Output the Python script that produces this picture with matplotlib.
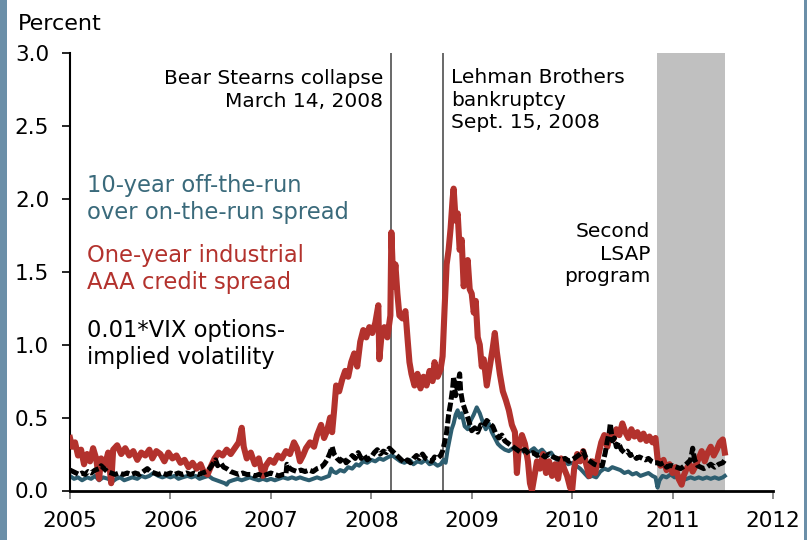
import numpy as np
import matplotlib
matplotlib.use("Agg")
import matplotlib.pyplot as plt
from matplotlib.patches import Rectangle

# Dados (ano fracionário, percentual)
red_x = [2005.00, 2005.02, 2005.05, 2005.08, 2005.11, 2005.14, 2005.17, 2005.20, 2005.23, 2005.26,
         2005.29, 2005.31, 2005.35, 2005.38, 2005.41, 2005.43, 2005.47, 2005.51, 2005.55, 2005.59,
         2005.63, 2005.67, 2005.71, 2005.75, 2005.79, 2005.82, 2005.86, 2005.90, 2005.94, 2005.98,
         2006.02, 2006.06, 2006.10, 2006.14, 2006.18, 2006.22, 2006.26, 2006.30, 2006.33, 2006.37,
         2006.40, 2006.44, 2006.48, 2006.52, 2006.56, 2006.60, 2006.64, 2006.68, 2006.71, 2006.73,
         2006.76, 2006.80, 2006.84, 2006.88, 2006.92, 2006.95, 2006.99, 2007.03, 2007.07, 2007.11,
         2007.15, 2007.19, 2007.23, 2007.26, 2007.29, 2007.32, 2007.35, 2007.39, 2007.43, 2007.46,
         2007.50, 2007.53, 2007.56, 2007.59, 2007.61, 2007.63, 2007.65, 2007.68, 2007.71, 2007.74,
         2007.77, 2007.80, 2007.83, 2007.86, 2007.89, 2007.92, 2007.95, 2007.98, 2008.01, 2008.04,
         2008.07, 2008.08, 2008.10, 2008.13, 2008.16, 2008.19, 2008.20, 2008.22, 2008.24, 2008.26,
         2008.28, 2008.31, 2008.34, 2008.36, 2008.38, 2008.40, 2008.43, 2008.46, 2008.49, 2008.52,
         2008.55, 2008.58, 2008.61, 2008.63, 2008.66, 2008.69, 2008.71, 2008.73, 2008.75, 2008.77,
         2008.79, 2008.81, 2008.82, 2008.84, 2008.86, 2008.88, 2008.90, 2008.92, 2008.94, 2008.96,
         2008.98, 2009.00, 2009.02, 2009.04, 2009.06, 2009.08, 2009.10, 2009.12, 2009.15, 2009.18,
         2009.21, 2009.23, 2009.25, 2009.28, 2009.31, 2009.34, 2009.37, 2009.40, 2009.43, 2009.45,
         2009.47, 2009.50, 2009.53, 2009.56, 2009.58, 2009.60, 2009.62, 2009.65, 2009.68, 2009.71,
         2009.74, 2009.77, 2009.80, 2009.83, 2009.86, 2009.89, 2009.92, 2009.95, 2009.98, 2010.00,
         2010.02, 2010.05, 2010.08, 2010.11, 2010.14, 2010.17, 2010.20, 2010.23, 2010.26, 2010.29,
         2010.32, 2010.35, 2010.38, 2010.41, 2010.44, 2010.47, 2010.50, 2010.53, 2010.56, 2010.59,
         2010.62, 2010.65, 2010.68, 2010.71, 2010.74, 2010.77, 2010.80, 2010.83, 2010.85, 2010.88,
         2010.91, 2010.94, 2010.97, 2011.00, 2011.03, 2011.06, 2011.09, 2011.11, 2011.14, 2011.17,
         2011.20, 2011.23, 2011.26, 2011.29, 2011.32, 2011.35, 2011.38, 2011.41, 2011.44, 2011.47,
         2011.50, 2011.52]
red_y = [0.36, 0.30, 0.33, 0.24, 0.28, 0.18, 0.25, 0.20, 0.29, 0.22,
         0.08, 0.22, 0.18, 0.26, 0.05, 0.28, 0.31, 0.25, 0.29, 0.24,
         0.27, 0.21, 0.26, 0.24, 0.28, 0.22, 0.27, 0.25, 0.20, 0.26,
         0.22, 0.24, 0.19, 0.21, 0.16, 0.19, 0.15, 0.18, 0.13, 0.11,
         0.16, 0.22, 0.26, 0.24, 0.28, 0.25, 0.29, 0.33, 0.43, 0.30,
         0.22, 0.26, 0.18, 0.22, 0.10, 0.17, 0.21, 0.19, 0.24, 0.22,
         0.27, 0.25, 0.33, 0.29, 0.20, 0.24, 0.29, 0.33, 0.30, 0.38,
         0.45, 0.36, 0.41, 0.50, 0.40, 0.55, 0.72, 0.68, 0.76, 0.82,
         0.78, 0.88, 0.94, 0.85, 1.02, 1.10, 1.05, 1.12, 1.08, 1.15,
         1.27, 0.90, 1.05, 1.12, 1.05, 1.20, 1.77, 1.40, 1.55, 1.35,
         1.20, 1.18, 1.23, 1.05, 0.88, 0.80, 0.72, 0.80, 0.70, 0.78,
         0.72, 0.82, 0.75, 0.88, 0.78, 0.83, 0.92, 1.25, 1.55, 1.65,
         1.80, 2.00, 2.07, 1.85, 1.90, 1.65, 1.72, 1.40, 1.50, 1.58,
         1.38, 1.35, 1.22, 1.30, 1.05, 1.00, 0.85, 0.90, 0.72, 0.85,
         0.98, 1.08, 0.95, 0.80, 0.68, 0.62, 0.55, 0.45, 0.40, 0.12,
         0.30, 0.38, 0.32, 0.20, 0.05, 0.00, 0.08, 0.20, 0.15, 0.25,
         0.12, 0.20, 0.10, 0.18, 0.08, 0.22, 0.15, 0.10, 0.02, 0.00,
         0.15, 0.25, 0.20, 0.27, 0.18, 0.10, 0.20, 0.12, 0.24, 0.33,
         0.38, 0.30, 0.40, 0.35, 0.42, 0.38, 0.46, 0.40, 0.36, 0.42,
         0.37, 0.40, 0.35, 0.39, 0.34, 0.37, 0.33, 0.36, 0.22, 0.17,
         0.21, 0.14, 0.18, 0.12, 0.16, 0.08, 0.04, 0.10, 0.15, 0.18,
         0.13, 0.17, 0.22, 0.27, 0.20, 0.26, 0.30, 0.24, 0.28, 0.33,
         0.35, 0.26]

teal_x = [2005.00, 2005.04, 2005.08, 2005.12, 2005.17, 2005.21, 2005.25, 2005.29, 2005.33, 2005.38,
          2005.42, 2005.46, 2005.50, 2005.54, 2005.58, 2005.62, 2005.67, 2005.71, 2005.75, 2005.79,
          2005.83, 2005.88, 2005.92, 2005.96, 2006.00, 2006.04, 2006.08, 2006.12, 2006.17, 2006.21,
          2006.25, 2006.29, 2006.33, 2006.38, 2006.42, 2006.46, 2006.50, 2006.54, 2006.56, 2006.58,
          2006.62, 2006.67, 2006.71, 2006.75, 2006.79, 2006.83, 2006.88, 2006.92, 2006.96, 2007.00,
          2007.04, 2007.08, 2007.12, 2007.17, 2007.21, 2007.25, 2007.29, 2007.33, 2007.38, 2007.42,
          2007.46, 2007.50, 2007.54, 2007.58, 2007.60, 2007.62, 2007.65, 2007.69, 2007.73, 2007.77,
          2007.81, 2007.85, 2007.88, 2007.92, 2007.96, 2008.00, 2008.04, 2008.08, 2008.12, 2008.17,
          2008.21, 2008.25, 2008.29, 2008.33, 2008.38, 2008.42, 2008.46, 2008.50, 2008.54, 2008.58,
          2008.62, 2008.66, 2008.69, 2008.72, 2008.74, 2008.76, 2008.78, 2008.80, 2008.82, 2008.84,
          2008.86, 2008.88, 2008.90, 2008.93, 2008.96, 2008.99, 2009.02, 2009.05, 2009.08, 2009.11,
          2009.14, 2009.17, 2009.20, 2009.23, 2009.26, 2009.29, 2009.33, 2009.37, 2009.41, 2009.45,
          2009.50, 2009.54, 2009.58, 2009.62, 2009.66, 2009.70, 2009.75, 2009.79, 2009.83, 2009.87,
          2009.92, 2009.96, 2010.00, 2010.04, 2010.08, 2010.12, 2010.16, 2010.20, 2010.24, 2010.28,
          2010.32, 2010.36, 2010.40, 2010.44, 2010.48, 2010.52, 2010.56, 2010.60, 2010.64, 2010.68,
          2010.72, 2010.76, 2010.80, 2010.83, 2010.85, 2010.87, 2010.90, 2010.94, 2010.98, 2011.02,
          2011.06, 2011.10, 2011.14, 2011.18, 2011.22, 2011.26, 2011.30, 2011.34, 2011.38, 2011.42,
          2011.46, 2011.50, 2011.52]
teal_y = [0.10, 0.08, 0.09, 0.07, 0.09, 0.08, 0.10, 0.07, 0.09, 0.08,
          0.06, 0.08, 0.09, 0.07, 0.08, 0.09, 0.08, 0.10, 0.09, 0.10,
          0.12, 0.10, 0.09, 0.10, 0.09, 0.10, 0.08, 0.09, 0.10, 0.09,
          0.10, 0.08, 0.09, 0.10, 0.08, 0.07, 0.06, 0.05, 0.04, 0.06,
          0.07, 0.08, 0.07, 0.08, 0.09, 0.08, 0.07, 0.08, 0.07, 0.08,
          0.07, 0.08, 0.09, 0.08, 0.09, 0.08, 0.09, 0.08, 0.07, 0.08,
          0.09, 0.08, 0.09, 0.10, 0.15, 0.13, 0.12, 0.14, 0.13, 0.16,
          0.15, 0.18, 0.17, 0.20, 0.19, 0.21, 0.20, 0.22, 0.21, 0.23,
          0.24, 0.22, 0.20, 0.19, 0.21, 0.18, 0.20, 0.19, 0.21, 0.18,
          0.19, 0.17, 0.18, 0.21, 0.19, 0.28, 0.35, 0.42, 0.46, 0.52,
          0.55, 0.50, 0.53, 0.44, 0.42, 0.48, 0.52, 0.57, 0.53, 0.47,
          0.42, 0.46, 0.40, 0.36, 0.32, 0.30, 0.28, 0.27, 0.29, 0.26,
          0.28, 0.25, 0.27, 0.29, 0.26, 0.28, 0.24, 0.26, 0.22, 0.20,
          0.21, 0.18, 0.19, 0.17, 0.15, 0.12, 0.09, 0.10, 0.09, 0.13,
          0.15, 0.14, 0.16, 0.15, 0.14, 0.12, 0.13, 0.11, 0.12, 0.10,
          0.11, 0.12, 0.10, 0.09, 0.02, 0.07, 0.10, 0.09, 0.11, 0.09,
          0.10, 0.07, 0.08, 0.09, 0.08, 0.09, 0.08, 0.09, 0.08, 0.09,
          0.08, 0.09, 0.10]

vix_x = [2005.00, 2005.03, 2005.06, 2005.09, 2005.12, 2005.15, 2005.18, 2005.21, 2005.25, 2005.29,
         2005.31, 2005.34, 2005.37, 2005.41, 2005.45, 2005.49, 2005.53, 2005.57, 2005.61, 2005.65,
         2005.69, 2005.73, 2005.77, 2005.80, 2005.84, 2005.88, 2005.92, 2005.96, 2006.00, 2006.04,
         2006.08, 2006.12, 2006.16, 2006.20, 2006.24, 2006.28, 2006.32, 2006.36, 2006.39, 2006.42,
         2006.45, 2006.47, 2006.50, 2006.53, 2006.56, 2006.60, 2006.64, 2006.68, 2006.72, 2006.76,
         2006.80, 2006.84, 2006.88, 2006.92, 2006.96, 2007.00, 2007.04, 2007.08, 2007.12, 2007.15,
         2007.16, 2007.19, 2007.22, 2007.26, 2007.30, 2007.34, 2007.38, 2007.42, 2007.46, 2007.50,
         2007.53, 2007.56, 2007.59, 2007.61, 2007.63, 2007.66, 2007.69, 2007.72, 2007.75, 2007.78,
         2007.81, 2007.84, 2007.87, 2007.90, 2007.93, 2007.96, 2008.00, 2008.03, 2008.06, 2008.09,
         2008.12, 2008.15, 2008.18, 2008.21, 2008.24, 2008.27, 2008.30, 2008.33, 2008.36, 2008.39,
         2008.42, 2008.45, 2008.48, 2008.51, 2008.54, 2008.57, 2008.60, 2008.63, 2008.66, 2008.69,
         2008.71, 2008.73, 2008.75, 2008.77, 2008.79, 2008.81, 2008.82, 2008.84, 2008.86, 2008.88,
         2008.89, 2008.91, 2008.93, 2008.95, 2008.97, 2009.00, 2009.03, 2009.06, 2009.09, 2009.12,
         2009.15, 2009.18, 2009.21, 2009.24, 2009.27, 2009.30, 2009.33, 2009.37, 2009.41, 2009.45,
         2009.49, 2009.53, 2009.57, 2009.61, 2009.65, 2009.69, 2009.73, 2009.77, 2009.81, 2009.85,
         2009.89, 2009.93, 2009.97, 2010.00, 2010.04, 2010.08, 2010.11, 2010.14, 2010.18, 2010.22,
         2010.26, 2010.30, 2010.33, 2010.35, 2010.37, 2010.38, 2010.40, 2010.42, 2010.44, 2010.46,
         2010.49, 2010.52, 2010.55, 2010.58, 2010.61, 2010.64, 2010.67, 2010.70, 2010.73, 2010.76,
         2010.79, 2010.82, 2010.85, 2010.88, 2010.91, 2010.94, 2010.97, 2011.00, 2011.04, 2011.08,
         2011.12, 2011.15, 2011.18, 2011.20, 2011.22, 2011.25, 2011.28, 2011.31, 2011.34, 2011.38,
         2011.42, 2011.46, 2011.50, 2011.52]
vix_y = [0.14, 0.13, 0.12, 0.11, 0.12, 0.11, 0.13, 0.12, 0.14, 0.15,
         0.17, 0.15, 0.13, 0.12, 0.11, 0.12, 0.11, 0.12, 0.11, 0.12,
         0.11, 0.13, 0.15, 0.13, 0.12, 0.11, 0.12, 0.11, 0.12, 0.11,
         0.12, 0.11, 0.12, 0.11, 0.12, 0.11, 0.12, 0.13, 0.15, 0.18,
         0.21, 0.17, 0.19, 0.16, 0.15, 0.13, 0.12, 0.11, 0.12, 0.11,
         0.11, 0.10, 0.11, 0.10, 0.11, 0.12, 0.11, 0.10, 0.11, 0.11,
         0.18, 0.15, 0.14, 0.13, 0.14, 0.13, 0.14, 0.13, 0.15, 0.16,
         0.18, 0.21, 0.26, 0.30, 0.25, 0.22, 0.20, 0.23, 0.19, 0.21,
         0.24, 0.22, 0.26, 0.22, 0.24, 0.21, 0.23, 0.26, 0.28, 0.25,
         0.27, 0.26, 0.29, 0.27, 0.25, 0.23, 0.21, 0.19, 0.21, 0.19,
         0.22, 0.24, 0.22, 0.25, 0.22, 0.21, 0.20, 0.23, 0.22, 0.24,
         0.27, 0.33, 0.40, 0.52, 0.60, 0.70, 0.78, 0.65, 0.72, 0.80,
         0.68, 0.60, 0.56, 0.52, 0.48, 0.41, 0.43, 0.40, 0.45, 0.44,
         0.48, 0.46, 0.44, 0.39, 0.36, 0.38, 0.34, 0.32, 0.30, 0.28,
         0.26, 0.28, 0.25, 0.26, 0.24, 0.25, 0.23, 0.25, 0.23, 0.22,
         0.21, 0.22, 0.20, 0.21, 0.23, 0.25, 0.27, 0.22, 0.20, 0.18,
         0.17, 0.17, 0.26, 0.34, 0.40, 0.46, 0.34, 0.36, 0.30, 0.33,
         0.28, 0.26, 0.27, 0.24, 0.25, 0.22, 0.23, 0.22, 0.21, 0.22,
         0.20, 0.19, 0.19, 0.18, 0.19, 0.16, 0.17, 0.17, 0.16, 0.15,
         0.17, 0.19, 0.21, 0.29, 0.21, 0.17, 0.16, 0.15, 0.16, 0.18,
         0.16, 0.18, 0.19, 0.21]

years = [2005, 2006, 2007, 2008, 2009, 2010, 2011, 2012]
yticks = [0.0, 0.5, 1.0, 1.5, 2.0, 2.5, 3.0]
bear_date = 2008.20     # 14 de março de 2008
lehman_date = 2008.71   # 15 de setembro de 2008
lsap_start, lsap_end = 2010.84, 2011.52

RED = "#b3322d"
TEAL = "#2d5e70"
TEAL_TXT = "#3a6a7b"
W, H = 807, 540

fig = plt.figure(figsize=(W / 100, H / 100), dpi=100)
ax = fig.add_axes([70 / W, 1 - 490.5 / H, 703 / W, 437.5 / H])

ax.axvspan(lsap_start, lsap_end, color="#c0c0c0", lw=0, zorder=0)
ax.axvline(bear_date, color="#404040", lw=1.1, zorder=1)
ax.axvline(lehman_date, color="#404040", lw=1.1, zorder=1)

ax.plot(teal_x, teal_y, color=TEAL, lw=2.9, solid_joinstyle="round", zorder=2)
ax.plot(red_x, red_y, color=RED, lw=4.4, solid_joinstyle="round", zorder=3)
ax.plot(vix_x, vix_y, color="black", lw=3.6, linestyle=(0, (1.8, 0.6)),
        dash_capstyle="butt", zorder=4)

ax.set_xlim(2005, 2012)
ax.set_ylim(0, 3.0)
ax.set_xticks(years)
ax.set_xticklabels([str(y) for y in years])
ax.set_yticks(yticks)
ax.set_yticklabels([f"{v:.1f}" for v in yticks])
for s in ["top", "right"]:
    ax.spines[s].set_visible(False)
ax.spines["left"].set_linewidth(1.5)
ax.spines["bottom"].set_linewidth(2.0)
ax.tick_params(axis="y", length=6, width=1.2, pad=9, labelsize=15.5)
ax.tick_params(axis="x", length=6, width=1.2, color="#777777", pad=9, labelsize=15.5)

# Textos
fs_leg = 16.3
fs_ann = 14.5
fig.text(18 / W, 1 - 14 / H, "Percent", fontsize=16, va="top", ha="left")
fig.text(87 / W, 1 - 174 / H, "10-year off-the-run\nover on-the-run spread",
         color=TEAL_TXT, fontsize=fs_leg, va="top", ha="left", linespacing=1.2)
fig.text(87 / W, 1 - 244 / H, "One-year industrial\nAAA credit spread",
         color=RED, fontsize=fs_leg, va="top", ha="left", linespacing=1.2)
fig.text(87 / W, 1 - 319 / H, "0.01*VIX options-\nimplied volatility",
         color="black", fontsize=fs_leg, va="top", ha="left", linespacing=1.2)
fig.text(383 / W, 1 - 69 / H, "Bear Stearns collapse\nMarch 14, 2008",
         fontsize=fs_ann, va="top", ha="right", multialignment="right", linespacing=1.25)
fig.text(451 / W, 1 - 68 / H, "Lehman Brothers\nbankruptcy\nSept. 15, 2008",
         fontsize=fs_ann, va="top", ha="left", linespacing=1.25)
fig.text(650 / W, 1 - 222 / H, "Second\nLSAP\nprogram",
         fontsize=fs_ann, va="top", ha="right", multialignment="right", linespacing=1.25)

# Faixas laterais
fig.patches.append(Rectangle((0, 0), 7 / W, 1, transform=fig.transFigure,
                             color="#6b8fa8", lw=0))
fig.patches.append(Rectangle((804 / W, 0), 3 / W, 1, transform=fig.transFigure,
                             color="#6b8fa8", lw=0))

fig.savefig("out.png", dpi=100)
